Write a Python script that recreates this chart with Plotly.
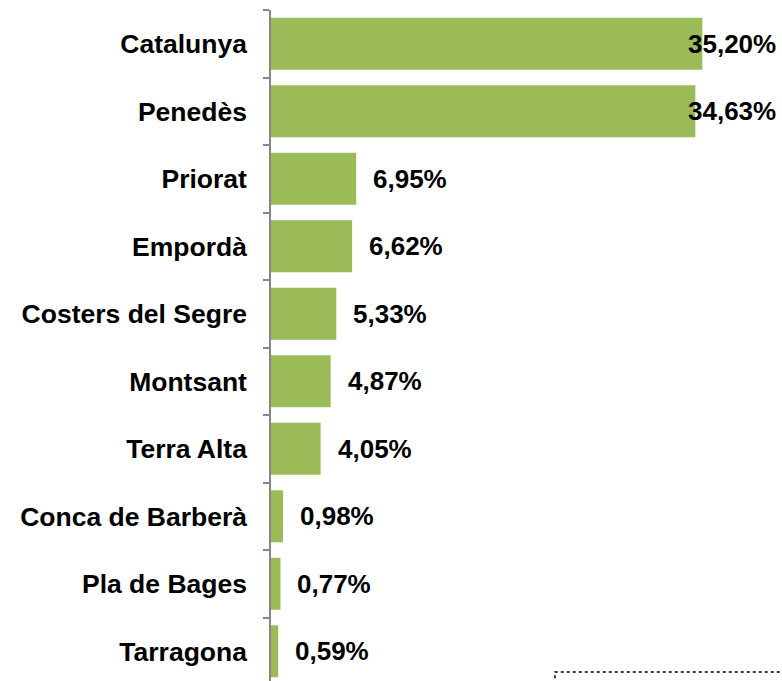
import plotly.graph_objects as go

categories = ["Catalunya", "Penedès", "Priorat", "Empordà", "Costers del Segre",
              "Montsant", "Terra Alta", "Conca de Barberà", "Pla de Bages", "Tarragona"]
values = [35.20, 34.63, 6.95, 6.62, 5.33, 4.87, 4.05, 0.98, 0.77, 0.59]
labels = ["35,20%", "34,63%", "6,95%", "6,62%", "5,33%", "4,87%", "4,05%", "0,98%", "0,77%", "0,59%"]

GREEN = "#9BBB59"
FONT = "Liberation Sans"
XMAX = 41.7

fig = go.Figure(go.Bar(
    x=values, y=categories, orientation="h",
    marker=dict(color=GREEN, line=dict(width=0)),
    hoverinfo="skip",
))

annotations = []
for cat, v, lab in zip(categories, values, labels):
    if v > 30:
        annotations.append(dict(x=1, xref="paper", y=cat, yref="y", text=lab,
                                showarrow=False, xanchor="right", xshift=-4,
                                font=dict(family=FONT, size=26, color="black", weight="bold")))
    else:
        annotations.append(dict(x=v, xref="x", y=cat, yref="y", text=lab,
                                showarrow=False, xanchor="left", xshift=15,
                                font=dict(family=FONT, size=26, color="black", weight="bold")))

fig.update_layout(
    width=782, height=681,
    margin=dict(l=271, r=0, t=10, b=0),
    paper_bgcolor="white", plot_bgcolor="white",
    bargap=0.23,
    showlegend=False,
    annotations=annotations,
    xaxis=dict(range=[0, XMAX], visible=False, fixedrange=True),
    yaxis=dict(
        range=[9.44, -0.5], type="category", fixedrange=True,
        showline=True, linecolor="#868686", linewidth=1.5,
        ticks="outside", tickson="boundaries", ticklen=6, tickcolor="#868686", tickwidth=1.5,
        showgrid=False, zeroline=False,
        tickfont=dict(family=FONT, size=26.5, color="black", weight="bold"),
        ticklabelstandoff=17,
    ),
    shapes=[dict(type="rect", xref="paper", yref="paper",
                 x0=(555 - 271) / 511, x1=1.01, y0=-0.05, y1=(681 - 672) / 671,
                 line=dict(color="black", width=1.5, dash="dot"), fillcolor="rgba(0,0,0,0)")],
)

fig.write_html("out.html", config={"displayModeBar": False},
               post_script="document.body.style.margin='0';document.body.style.overflow='hidden';")
